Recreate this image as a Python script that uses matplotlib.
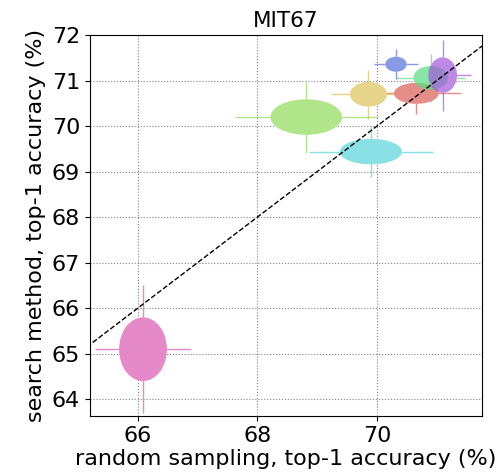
import matplotlib
matplotlib.use("Agg")
import matplotlib.pyplot as plt
from matplotlib.patches import Ellipse
import seaborn as sns

# mean accuracy and std per search run (random sampling vs. search method)
rand_mean = [70.66, 69.86, 68.82, 70.90, 69.90, 70.32, 71.10, 66.09]
rand_std = [0.375, 0.31, 0.60, 0.29, 0.52, 0.18, 0.24, 0.40]
search_mean = [70.72, 70.70, 70.20, 71.06, 69.44, 71.36, 71.12, 65.10]
search_std = [0.23, 0.27, 0.39, 0.26, 0.28, 0.165, 0.39, 0.70]

x_ticks = [66, 68, 70]
y_ticks = [64, 65, 66, 67, 68, 69, 70, 71, 72]

colors = sns.color_palette("hls", len(rand_mean))

fig = plt.figure(figsize=(4.96, 4.74), dpi=100)
ax = fig.add_axes([0.181, 0.122, 0.791, 0.804])

runs = list(zip(rand_mean, rand_std, search_mean, search_std, colors))

# 2-sigma bars first, then a white backing so the bars stop at the ellipse edge
for mx, sx, my, sy, c in runs:
    ax.errorbar(mx, my, xerr=2 * sx, yerr=2 * sy, color=c, alpha=0.7,
                linewidth=1.0, fmt="none", zorder=2)
for mx, sx, my, sy, c in runs:
    ax.add_patch(Ellipse((mx, my), 2 * sx, 2 * sy, facecolor="white",
                         edgecolor="none", zorder=2.5))
for mx, sx, my, sy, c in runs:
    ax.add_patch(Ellipse((mx, my), 2 * sx, 2 * sy, facecolor=c, alpha=0.7,
                         edgecolor="none", zorder=3))

lo, hi = 63.63, 72.0
ax.plot([lo, hi], [lo, hi], "k--", linewidth=1.0, zorder=4)

ax.set_xlim(65.2, 71.76)
ax.set_ylim(lo, hi)
ax.set_xticks(x_ticks)
ax.set_yticks(y_ticks)
ax.tick_params(labelsize=16)
ax.grid(True, linestyle=":", color="gray", linewidth=0.8)
ax.set_axisbelow(True)

ax.set_xlabel("random sampling, top-1 accuracy (%)", fontsize=16, labelpad=2)
ax.set_ylabel("search method, top-1 accuracy (%)", fontsize=16, labelpad=4)
ax.set_title("MIT67", fontsize=15.5)

fig.savefig("out.png", dpi=100)
